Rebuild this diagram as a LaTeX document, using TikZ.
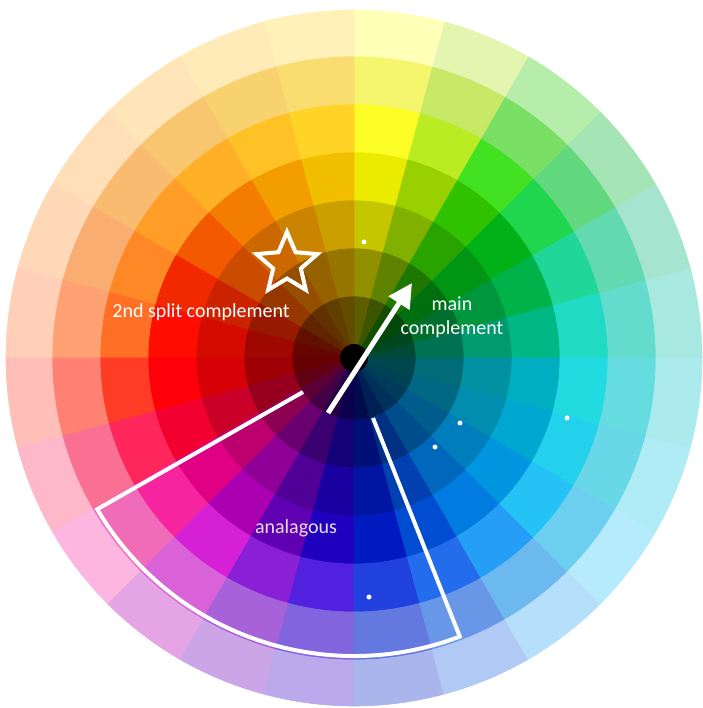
\documentclass[tikz,border=0pt]{standalone}
\usepackage{fontspec}
\setmainfont{Carlito}
\usetikzlibrary{shapes.geometric,arrows.meta}
\def\huelist{{163,145,128,105,76,60,47,39,31,22,10,3,358,348,325,297,272,250,232,218,207,200,192,186}}
\def\tintlist{{173,160,135,110,75,60,48,43,38,33,27,20,6,345,325,300,275,255,230,218,205,195,188,182}}
\def\vallist{{0.72,0.70,0.70,0.76,0.82,0.92,0.95,0.95,0.95,0.95,0.95,1,1,0.95,0.88,0.70,0.70,0.75,0.75,0.82,0.88,0.88,0.82,0.76}}
\begin{document}
\begin{tikzpicture}[x=1pt,y=1pt,every node/.style={font=\fontsize{20}{24}\selectfont,text=white},
  wline/.style={draw=white,line width=4pt},
  wdot/.style={circle,fill=white,inner sep=0pt,minimum size=5pt}]
\useasboundingbox (-354,-350) rectangle (348,358);
\foreach \i in {0,...,23}{
  \pgfmathsetmacro\a{15*\i}
  \pgfmathsetmacro\b{15*\i+15}
  \pgfmathsetmacro\h{\huelist[\i]}
  \pgfmathsetmacro\t{\tintlist[\i]}
  \pgfmathsetmacro\v{\vallist[\i]}
  \foreach \ri/\ro/\f in {13/62/0.40,62/110/0.62,110/158/0.84,158/206/1}{
    \pgfmathsetmacro\bb{\v*\f}
    \definecolor{segh}{Hsb}{\h,1,\bb}\colorlet{seg}[rgb]{segh}
    \filldraw[fill=seg,draw=seg,line width=0.6pt] (\a:\ri) arc[start angle=\a,end angle=\b,radius=\ri] -- (\b:\ro) arc[start angle=\b,end angle=\a,radius=\ro] -- cycle;
  }
  \foreach \ri/\ro/\s/\m/\c in {206/254/0.85/0.7/0.35,254/302/0.55/0.5/0.5,302/348/0.28/0.5/0.55}{
    \pgfmathsetmacro\bb{min(1,\m*\v+\c)}
    \definecolor{segh}{Hsb}{\t,\s,\bb}\colorlet{seg}[rgb]{segh}
    \filldraw[fill=seg,draw=seg,line width=0.6pt] (\a:\ri) arc[start angle=\a,end angle=\b,radius=\ri] -- (\b:\ro) arc[start angle=\b,end angle=\a,radius=\ro] -- cycle;
  }
}
\fill[black] (0,0) circle (14);
\node[star,star points=5,star point ratio=2.2,draw=white,line width=4pt,minimum size=64pt,inner sep=0pt] (splitstar) at (-67,94) {};
\coordinate (anaL0) at (-51,-34);
\coordinate (anaL1) at (210.5:298);
\coordinate (anaR0) at (19,-60);
\draw[wline] (anaL0) -- (anaL1) arc[start angle=210.5,end angle=290.8,radius=298] -- (anaR0);
\coordinate (cmpA) at (-26,-55);
\coordinate (cmpB) at (58,75);
\draw[draw=white,line width=5pt,-{Triangle[length=24pt,width=24pt]}] (cmpA) -- (cmpB);
\node[wdot] (dot1) at (10,116) {};
\node[wdot] (dot2) at (106,-65) {};
\node[wdot] (dot3) at (81,-89) {};
\node[wdot] (dot4) at (213,-60) {};
\node[wdot] (dot5) at (15,-239) {};
\node (splitlbl) at (-153,46) {2nd split complement};
\node[align=center] (mainlbl) at (98,41) {main\\complement};
\node[text=white!85!violet] (analbl) at (-58,-170) {analagous};
\end{tikzpicture}
\end{document}
